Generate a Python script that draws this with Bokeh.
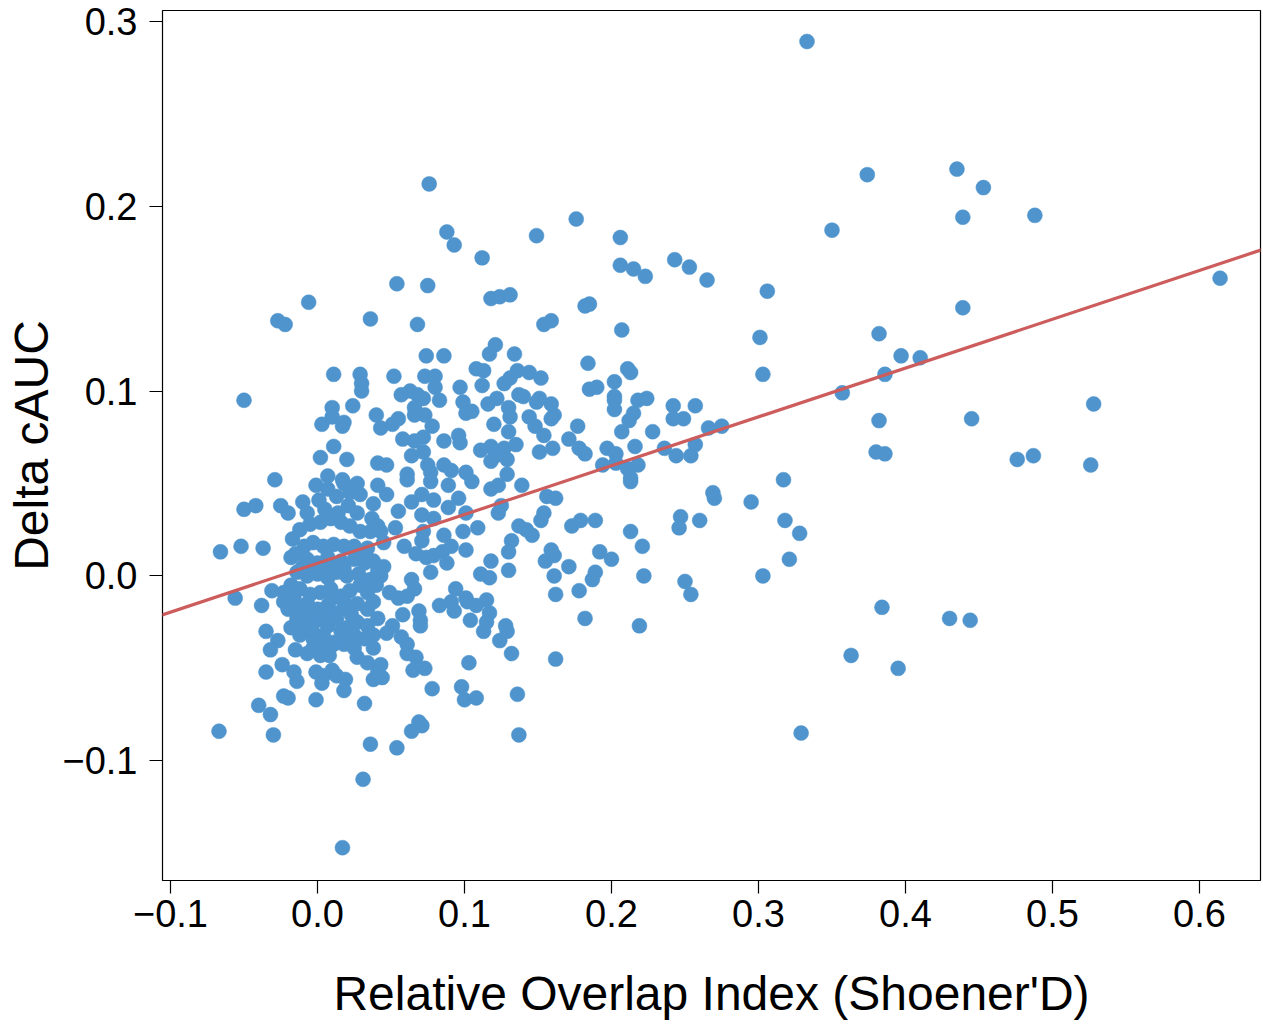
from bokeh.plotting import figure
from bokeh.models import Range1d, FixedTicker, Slope, ColumnDataSource
from bokeh.embed import file_html
from bokeh.resources import INLINE

# ---- axis ticks / labels ----
x_ticks = [-0.1, 0.0, 0.1, 0.2, 0.3, 0.4, 0.5, 0.6]
x_tick_labels = ["\u22120.1", "0.0", "0.1", "0.2", "0.3", "0.4", "0.5", "0.6"]
y_ticks = [-0.1, 0.0, 0.1, 0.2, 0.3]
y_tick_labels = ["\u22120.1", "0.0", "0.1", "0.2", "0.3"]
x_title = "Relative Overlap Index (Shoener'D)"
y_title = "Delta cAUC"

# ---- regression line ----
fit_intercept = 0.0068
fit_slope = 0.264

# ---- points: sparse right / top ----
x_a = [0.333, 0.076, 0.374, 0.435, 0.453, 0.439, 0.488, 0.350, 0.176, 0.206,
       0.149, 0.088, 0.093, 0.112, 0.206, 0.215, 0.223, 0.243, 0.253, 0.265,
       0.306, 0.614, 0.439, 0.301, 0.382, 0.303, 0.357, 0.386, 0.397, 0.410,
       0.382, 0.445, 0.528, 0.380, 0.386, 0.476, 0.487, 0.526, 0.317, 0.295,
       0.318, 0.328, 0.321, 0.303, 0.384, 0.430, 0.444, 0.363, 0.395, 0.329]
y_a = [0.289, 0.212, 0.217, 0.220, 0.210, 0.194, 0.195, 0.187, 0.193, 0.183,
       0.184, 0.186, 0.179, 0.172, 0.168, 0.166, 0.162, 0.171, 0.167, 0.160,
       0.154, 0.161, 0.145, 0.129, 0.131, 0.109, 0.099, 0.109, 0.119, 0.118,
       0.084, 0.085, 0.093, 0.067, 0.066, 0.063, 0.065, 0.060, 0.052, 0.040,
       0.030, 0.023, 0.009, 0.000, -0.017, -0.023, -0.024, -0.043, -0.050, -0.085]

# ---- points: middle right ----
x_b = [0.182, 0.185, 0.207, 0.184, 0.211, 0.213, 0.202, 0.185, 0.190, 0.202,
       0.202, 0.202, 0.218, 0.224, 0.215, 0.212, 0.242, 0.257, 0.242, 0.249,
       0.228, 0.207, 0.177, 0.171, 0.178, 0.182, 0.197, 0.203, 0.216, 0.236,
       0.244, 0.254, 0.257, 0.266, 0.275, 0.194, 0.203, 0.211, 0.218, 0.213,
       0.213, 0.269, 0.270, 0.173, 0.179, 0.189, 0.213, 0.247, 0.246, 0.260,
       0.192, 0.200, 0.221, 0.171, 0.189, 0.187, 0.178, 0.222, 0.250, 0.254,
       0.182, 0.219, 0.162]
y_b = [0.146, 0.147, 0.133, 0.115, 0.112, 0.110, 0.105, 0.101, 0.102, 0.097,
       0.095, 0.090, 0.095, 0.096, 0.088, 0.084, 0.092, 0.092, 0.085, 0.085,
       0.078, 0.078, 0.081, 0.074, 0.069, 0.066, 0.069, 0.066, 0.070, 0.069,
       0.065, 0.065, 0.071, 0.080, 0.081, 0.060, 0.061, 0.058, 0.060, 0.053,
       0.051, 0.045, 0.042, 0.027, 0.030, 0.030, 0.024, 0.032, 0.026, 0.030,
       0.013, 0.009, 0.016, 0.005, 0.002, -0.002, -0.008, 0.000, -0.003, -0.010,
       -0.023, -0.027, -0.045]

# ---- points: upper left ----
x_c = [-0.006, -0.027, -0.022, 0.036, -0.050, 0.011, 0.029, 0.030, 0.030, 0.024,
       0.010, 0.010, 0.003, 0.017, 0.018, 0.040, 0.043, 0.011, 0.002, 0.020,
       0.041, 0.007, -0.029, 0.017]
y_c = [0.148, 0.138, 0.136, 0.139, 0.095, 0.109, 0.109, 0.104, 0.100, 0.092,
       0.091, 0.086, 0.082, 0.081, 0.083, 0.087, 0.080, 0.070, 0.064, 0.063,
       0.061, 0.054, 0.052, 0.052]

# ---- points: upper middle ----
x_d = [0.054, 0.075, 0.118, 0.124, 0.131, 0.068, 0.154, 0.159, 0.074, 0.086,
       0.121, 0.117, 0.134, 0.052, 0.073, 0.080, 0.080, 0.108, 0.113, 0.112,
       0.097, 0.127, 0.131, 0.136, 0.144, 0.152, 0.057, 0.063, 0.068, 0.072,
       0.083, 0.137, 0.140, 0.151, 0.149, 0.159, 0.161, 0.159, 0.122, 0.116,
       0.099, 0.101, 0.105, 0.066, 0.066, 0.073, 0.130, 0.131, 0.078, 0.120,
       0.144, 0.148, 0.055, 0.051, 0.130, 0.154, 0.058, 0.066, 0.072, 0.086,
       0.096, 0.097, 0.111, 0.118, 0.121, 0.118, 0.127, 0.135, 0.129, 0.151,
       0.160, 0.064, 0.072, 0.075, 0.077, 0.047, 0.061, 0.086, 0.091, 0.101,
       0.129]
y_d = [0.158, 0.157, 0.150, 0.151, 0.152, 0.136, 0.136, 0.138, 0.119, 0.119,
       0.125, 0.120, 0.120, 0.108, 0.108, 0.108, 0.102, 0.112, 0.111, 0.103,
       0.102, 0.104, 0.107, 0.111, 0.110, 0.107, 0.098, 0.100, 0.098, 0.096,
       0.095, 0.098, 0.097, 0.096, 0.094, 0.093, 0.087, 0.085, 0.096, 0.093,
       0.094, 0.088, 0.089, 0.091, 0.087, 0.087, 0.091, 0.086, 0.081, 0.082,
       0.086, 0.081, 0.085, 0.082, 0.078, 0.076, 0.074, 0.073, 0.075, 0.073,
       0.076, 0.072, 0.068, 0.070, 0.065, 0.062, 0.069, 0.071, 0.063, 0.067,
       0.069, 0.065, 0.067, 0.060, 0.056, 0.060, 0.055, 0.060, 0.057, 0.056,
       0.055]

# ---- points: lower middle ----
x_e = [0.061, 0.077, 0.089, 0.105, 0.118, 0.123, 0.139, 0.156, 0.162, 0.047,
       0.055, 0.064, 0.071, 0.079, 0.096, 0.089, 0.101, 0.123, 0.125, 0.154,
       0.152, 0.071, 0.079, 0.053, 0.045, 0.043, 0.059, 0.071, 0.072, 0.086,
       0.091, 0.099, 0.109, 0.137, 0.142, 0.146, 0.067, 0.074, 0.079, 0.085,
       0.077, 0.088, 0.101, 0.132, 0.130, 0.118, 0.111, 0.117, 0.130, 0.159,
       0.155, 0.161, 0.161, 0.162, 0.045, 0.043, 0.064, 0.066, 0.061, 0.049,
       0.055, 0.094, 0.101, 0.083, 0.091, 0.093, 0.102, 0.108, 0.115, 0.117,
       0.058, 0.069, 0.070, 0.070, 0.104, 0.115, 0.113, 0.128, 0.129, 0.124,
       0.051, 0.047, 0.057, 0.061, 0.103, 0.132, 0.061, 0.067, 0.065, 0.073,
       0.043, 0.044, 0.078, 0.098, 0.100, 0.108, 0.136, 0.069, 0.071, 0.064,
       0.054, 0.137]
y_e = [0.052, 0.051, 0.049, 0.051, 0.047, 0.049, 0.049, 0.043, 0.042, 0.044,
       0.035, 0.040, 0.044, 0.041, 0.042, 0.037, 0.034, 0.034, 0.038, 0.034,
       0.030, 0.033, 0.031, 0.026, 0.018, 0.024, 0.016, 0.019, 0.024, 0.022,
       0.016, 0.024, 0.026, 0.027, 0.025, 0.022, 0.012, 0.010, 0.011, 0.013,
       0.002, 0.007, 0.014, 0.019, 0.013, 0.008, 0.001, -0.001, 0.003, 0.014,
       0.008, 0.011, 0.000, -0.010, 0.005, 0.000, -0.002, -0.007, -0.011, -0.009,
       -0.012, -0.007, -0.012, -0.016, -0.014, -0.019, -0.014, -0.016, -0.013, -0.020,
       -0.021, -0.019, -0.024, -0.027, -0.024, -0.025, -0.030, -0.027, -0.030, -0.035,
       -0.027, -0.031, -0.033, -0.037, -0.047, -0.042, -0.042, -0.044, -0.051, -0.050,
       -0.048, -0.055, -0.061, -0.060, -0.067, -0.066, -0.064, -0.079, -0.081, -0.084,
       -0.093, -0.086]

# ---- points: lower left ----
x_f = [-0.027, -0.032, -0.015, -0.007, -0.003, 0.002, 0.008, 0.011, 0.018, 0.025,
       0.027, 0.034, 0.038, 0.038, 0.041, -0.035, -0.024, -0.016, -0.014, -0.001,
       0.004, 0.003, 0.010, 0.013, 0.019, 0.018, -0.023, -0.020, -0.001, 0.032,
       -0.040, -0.032, -0.030, -0.067, 0.036, 0.031, 0.017]
y_f = [-0.035, -0.040, -0.040, -0.042, -0.039, -0.043, -0.043, -0.037, -0.037, -0.039,
       -0.044, -0.047, -0.039, -0.056, -0.052, -0.052, -0.048, -0.052, -0.057, -0.052,
       -0.054, -0.058, -0.051, -0.054, -0.056, -0.062, -0.065, -0.066, -0.067, -0.069,
       -0.070, -0.075, -0.086, -0.084, -0.091, -0.110, -0.147]

# ---- points: dense core ----
x_g = [-0.050, -0.042, -0.025, -0.020, -0.007, -0.001, 0.007, 0.018, 0.027, 0.029,
       0.041, 0.001, 0.013, 0.021, 0.027, 0.038, 0.037, -0.066, -0.052, -0.037,
       -0.017, -0.012, -0.005, 0.002, 0.009, 0.016, 0.022, 0.029, 0.036, 0.041,
       -0.009, -0.003, 0.004, 0.011, 0.018, 0.025, 0.034, -0.007, 0.000, 0.007,
       0.016, 0.025, 0.032, 0.038, -0.014, -0.007, 0.000, 0.007, 0.013, 0.020,
       0.028, 0.036, 0.041, -0.031, -0.023, -0.018, -0.056, -0.038, -0.012, -0.005,
       0.002, 0.009, 0.016, 0.022, 0.029, 0.034, 0.040, -0.023, -0.014, -0.007,
       0.000, 0.007, 0.013, 0.020, 0.027, 0.034, 0.038, -0.014, -0.007, 0.000,
       0.007, 0.013, 0.020, 0.027, 0.034, 0.041, -0.035, -0.012, -0.003, 0.004,
       0.011, 0.018, 0.025, 0.032, 0.038]
y_g = [0.036, 0.038, 0.038, 0.034, 0.034, 0.049, 0.047, 0.050, 0.050, 0.044,
       0.049, 0.041, 0.043, 0.038, 0.034, 0.039, 0.031, 0.013, 0.016, 0.015,
       0.020, 0.025, 0.028, 0.029, 0.031, 0.029, 0.027, 0.024, 0.024, 0.027,
       0.016, 0.018, 0.016, 0.017, 0.016, 0.016, 0.015, 0.009, 0.007, 0.010,
       0.008, 0.009, 0.007, 0.008, 0.002, 0.000, 0.001, -0.001, 0.002, 0.000,
       0.001, -0.002, 0.003, -0.008, -0.009, -0.005, -0.012, -0.016, -0.007, -0.010,
       -0.009, -0.007, -0.011, -0.008, -0.005, -0.009, -0.005, -0.014, -0.016, -0.015,
       -0.018, -0.016, -0.020, -0.018, -0.015, -0.018, -0.014, -0.023, -0.025, -0.024,
       -0.027, -0.023, -0.028, -0.025, -0.027, -0.023, -0.030, -0.032, -0.034, -0.032,
       -0.036, -0.034, -0.032, -0.034, -0.032]

# ---- points: dense core, overlapping fill ----
x_h = [-0.018, -0.010, -0.003, 0.004, 0.011, 0.018, -0.016, -0.009, -0.002, 0.005,
       0.010, 0.018, -0.018, -0.010, -0.004, 0.003, 0.016, 0.023, -0.020, -0.015,
       0.005, 0.014, -0.010, 0.031, 0.022]
y_h = [0.010, 0.005, 0.004, 0.004, 0.005, 0.004, -0.012, -0.020, -0.021, -0.022,
       -0.012, -0.014, -0.028, -0.029, -0.029, -0.037, -0.030, -0.021, -0.018, 0.012,
       0.036, 0.034, 0.040, 0.013, 0.045]

overlap_index = x_a + x_b + x_c + x_d + x_e + x_f + x_g + x_h
delta_cauc = y_a + y_b + y_c + y_d + y_e + y_f + y_g + y_h
assert len(overlap_index) == len(delta_cauc)

source = ColumnDataSource(data=dict(x=overlap_index, y=delta_cauc))

FONT = "Liberation Sans"

p = figure(width=1262, height=1022,
           x_range=Range1d(-0.10544, 0.64150),
           y_range=Range1d(-0.16474, 0.30579),
           output_backend="svg", toolbar_location=None,
           min_border_left=162, min_border_right=2,
           min_border_top=10, min_border_bottom=140)

p.scatter("x", "y", source=source, size=15, fill_color="#4F94CD",
          line_color="#4F94CD", line_width=0.5)

p.add_layout(Slope(gradient=fit_slope, y_intercept=fit_intercept,
                   line_color="#CD5C5C", line_width=3.2))

p.grid.visible = False
p.outline_line_color = "black"
p.outline_line_width = 1.2
p.background_fill_color = "white"
p.border_fill_color = "white"

p.xaxis.ticker = FixedTicker(ticks=x_ticks)
p.xaxis.major_label_overrides = dict(zip(x_ticks, x_tick_labels))
p.yaxis.ticker = FixedTicker(ticks=y_ticks)
p.yaxis.major_label_overrides = dict(zip(y_ticks, y_tick_labels))

for ax in (p.xaxis[0], p.yaxis[0]):
    ax.axis_line_color = None
    ax.major_tick_in = 0
    ax.major_tick_out = 13
    ax.major_tick_line_color = "black"
    ax.major_tick_line_width = 1.2
    ax.minor_tick_line_color = None
    ax.major_label_text_font = FONT
    ax.major_label_text_font_size = "38px"
    ax.major_label_text_color = "black"
    ax.axis_label_text_font = FONT
    ax.axis_label_text_font_size = "48px"
    ax.axis_label_text_font_style = "normal"
    ax.axis_label_text_color = "black"

p.xaxis.axis_label = x_title
p.yaxis.axis_label = y_title
p.xaxis.major_label_standoff = 6
p.xaxis.axis_label_standoff = 37
p.yaxis.major_label_standoff = 12
p.yaxis.axis_label_standoff = 1

open("out.html", "w").write(file_html(p, INLINE))
